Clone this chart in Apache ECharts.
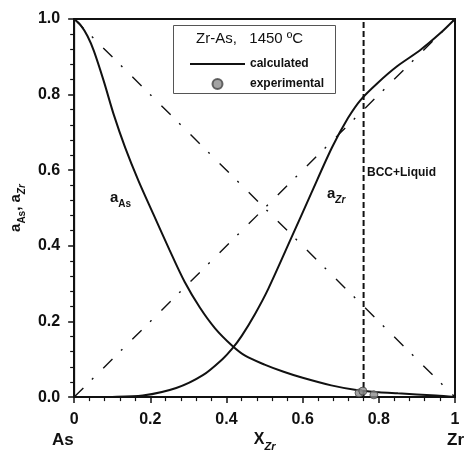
<!DOCTYPE html>
<html>
<head>
<meta charset="utf-8">
<script src="https://cdn.jsdelivr.net/npm/echarts@6/dist/echarts.min.js"></script>
<style>
html,body{margin:0;padding:0;background:#fff;}
#c{width:467px;height:457px;}
</style>
</head>
<body>
<div id="c"></div>
<script>
// ---- data ----
const aAs = [[0,1],[0.017,0.984],[0.035,0.955],[0.052,0.915],[0.078,0.835],[0.104,0.747],[0.134,0.66],[0.169,0.572],[0.208,0.484],[0.25,0.39],[0.29,0.305],[0.33,0.237],[0.37,0.182],[0.415,0.136],[0.45,0.109],[0.5,0.086],[0.55,0.067],[0.6,0.051],[0.675,0.031],[0.745,0.018],[0.8,0.013],[0.85,0.01],[0.95,0.004],[1,0]];
const aZr = [[0,0],[0.1,0.0005],[0.18,0.004],[0.268,0.024],[0.338,0.058],[0.39,0.101],[0.415,0.128],[0.44,0.162],[0.475,0.22],[0.51,0.287],[0.571,0.423],[0.623,0.54],[0.677,0.66],[0.719,0.738],[0.753,0.787],[0.797,0.831],[0.848,0.875],[0.909,0.918],[0.961,0.962],[1,1]];
const experimental = [[0.748,0.011],[0.758,0.016],[0.787,0.006]];
const idealAs = [[0,1],[1,0]];
const idealZr = [[0,0],[1,1]];
const phaseBoundaryX = 0.76;
const boundaryLine = [[phaseBoundaryX,0],[phaseBoundaryX,1]];

const chart = echarts.init(document.getElementById('c'), null, {renderer:'canvas'});
const FONT = '"Liberation Sans", Arial, sans-serif';
const black = '#111';

const option = {
  backgroundColor:'#fff',
  animation:false,
  grid:{left:70,right:12,top:19,bottom:58,show:true,borderColor:black,borderWidth:2,backgroundColor:'transparent'},
  xAxis:{
    type:'value',min:0,max:1,interval:0.2,
    name:'{x|X}{s|Zr}',nameLocation:'middle',nameGap:30,
    nameTextStyle:{rich:{x:{fontFamily:FONT,fontSize:16,fontWeight:'bold',color:black,verticalAlign:'bottom'},
                         s:{fontFamily:FONT,fontSize:11,fontWeight:'bold',fontStyle:'italic',color:black,verticalAlign:'bottom',padding:[0,0,-4,0]}}},
    axisLine:{lineStyle:{color:black,width:2}},
    axisTick:{length:6,lineStyle:{color:black,width:1.5}},
    minorTick:{show:true,splitNumber:5,length:4,lineStyle:{color:black,width:1.2}},
    splitLine:{show:false},
    axisLabel:{margin:14,fontFamily:FONT,fontSize:16,fontWeight:'bold',color:black,
      formatter:v=>{ if(Math.abs(v)<1e-9) return '0'; if(Math.abs(v-1)<1e-9) return '1'; return v.toFixed(1);} }
  },
  yAxis:{
    type:'value',min:0,max:1,interval:0.2,
    name:'{a|a}{s|As}{a|, a}{z|Zr}',nameLocation:'middle',nameGap:44,
    nameTextStyle:{rich:{a:{fontFamily:FONT,fontSize:15,fontWeight:'bold',color:black,verticalAlign:'bottom'},
                         s:{fontFamily:FONT,fontSize:10,fontWeight:'bold',color:black,verticalAlign:'bottom',padding:[0,0,-4,0]},
                         z:{fontFamily:FONT,fontSize:10,fontWeight:'bold',fontStyle:'italic',color:black,verticalAlign:'bottom',padding:[0,0,-4,0]}}},
    axisLine:{lineStyle:{color:black,width:2}},
    axisTick:{length:6,lineStyle:{color:black,width:1.5}},
    minorTick:{show:true,splitNumber:5,length:4,lineStyle:{color:black,width:1.2}},
    splitLine:{show:false},
    axisLabel:{margin:14,fontFamily:FONT,fontSize:16,fontWeight:'bold',color:black,formatter:v=>v.toFixed(1)}
  },
  legend:{
    orient:'vertical',left:185,top:53,itemWidth:55,itemHeight:10,itemGap:8,
    data:[{name:'calculated',icon:'path://M0,0 L55,0 L55,2 L0,2 Z'},{name:'experimental',icon:'circle'}],
    textStyle:{fontFamily:FONT,fontSize:12,fontWeight:'bold',color:black}
  },
  series:[
    {name:'ideal As',type:'line',data:idealAs,symbol:'none',silent:true,
     lineStyle:{color:black,width:1.4,type:[13,12,2,14]}},
    {name:'ideal Zr',type:'line',data:idealZr,symbol:'none',silent:true,
     lineStyle:{color:black,width:1.4,type:[13,12,2,14]}},
    {name:'boundary',type:'line',data:boundaryLine,symbol:'none',silent:true,
     lineStyle:{color:black,width:2,type:[6,3]}},
    {name:'calculated',type:'line',data:aAs,symbol:'none',smooth:0.3,
     lineStyle:{color:black,width:2},itemStyle:{color:black}},
    {name:'calculated',type:'line',data:aZr,symbol:'none',smooth:0.3,
     lineStyle:{color:black,width:2},itemStyle:{color:black}},
    {name:'experimental',type:'scatter',data:experimental,symbol:'circle',symbolSize:8,z:5,
     itemStyle:{color:'#8c8c8c',borderColor:'#444',borderWidth:1}}
  ],
  graphic:[
    {type:'rect',left:173,top:25,shape:{width:162,height:68},style:{fill:'#fff',stroke:'#555',lineWidth:1},z:1},
    {type:'text',left:196,top:31,style:{text:'Zr-As,   1450 ºC',font:'15px '+FONT,fill:black},z:2},
    {type:'text',left:110,top:190,style:{text:'{a|a}{s|As}',rich:{a:{font:'bold 15px '+FONT,fill:black,verticalAlign:'bottom'},s:{font:'bold 10px '+FONT,fill:black,verticalAlign:'bottom',padding:[0,0,-4,0]}}},z:3},
    {type:'text',left:327,top:186,style:{text:'{a|a}{s|Zr}',rich:{a:{font:'bold 15px '+FONT,fill:black,verticalAlign:'bottom'},s:{font:'italic bold 10px '+FONT,fill:black,verticalAlign:'bottom',padding:[0,0,-4,0]}}},z:3},
    {type:'text',left:367,top:167,style:{text:'BCC+Liquid',font:'bold 12px '+FONT,fill:black},z:3},
    {type:'text',left:52,top:432,style:{text:'As',font:'bold 17px '+FONT,fill:black},z:3},
    {type:'text',left:447,top:432,style:{text:'Zr',font:'bold 17px '+FONT,fill:black},z:3}
  ]
};
chart.setOption(option);
</script>
</body>
</html>
